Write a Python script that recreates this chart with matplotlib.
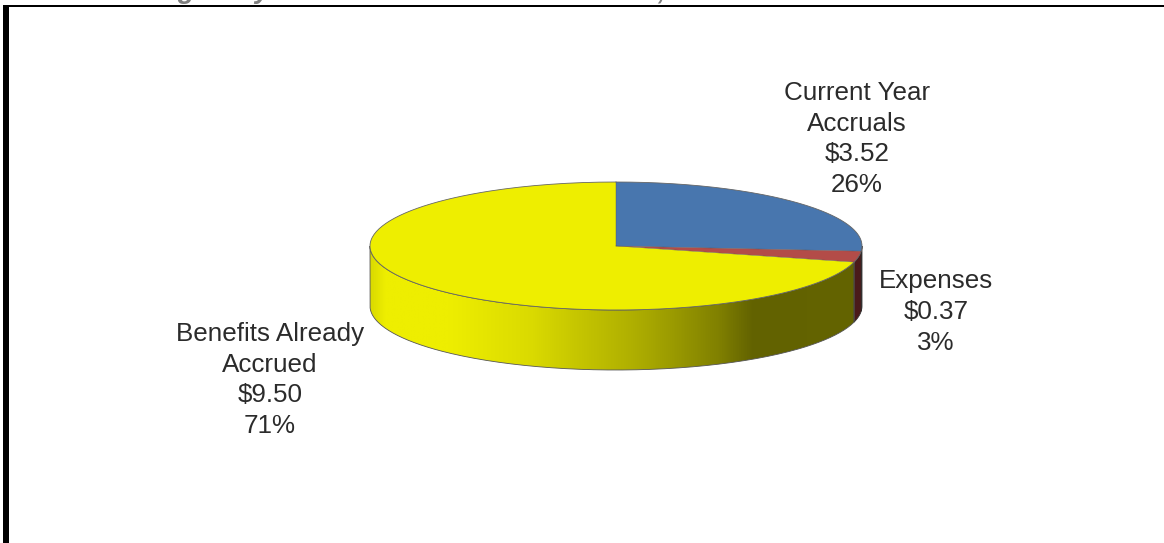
import numpy as np
import matplotlib
matplotlib.use("Agg")
import matplotlib.pyplot as plt
from matplotlib.patches import PathPatch, Rectangle
from matplotlib.path import Path
from matplotlib.colors import LinearSegmentedColormap

plt.rcParams['font.family'] = ['Liberation Sans', 'DejaVu Sans']

categories = ["Current Year\nAccruals", "Expenses", "Benefits Already\nAccrued"]
amounts = [3.52, 0.37, 9.50]
percents = [26, 3, 71]
top_colors = ["#4876ae", "#b34c48", "#eeee00"]
side_colors = ["#2a4a70", "#4a1a1a", None]

W, H = 1164, 543
CX, CY = 616, 246
RX, RY = 246, 64
DEPTH = 60

# side shading from left to right of the disc
shade_stops = [0.0, 0.03, 0.16, 0.33, 0.41, 0.54, 0.61, 0.71, 0.78, 1.0]
shade_colors = ["#dada00", "#eeee00", "#eeee00", "#dada00", "#c8c800", "#aeae00",
                "#9c9c00", "#808000", "#626200", "#646400"]


def ellipse_pts(a0, a1, n=200, dy=0):
    t = np.radians(np.linspace(a0, a1, n))
    return np.column_stack([CX + RX * np.cos(t), CY + dy - RY * np.sin(t)])


def side_path(a0, a1):
    # outer wall between two angles, only the part facing the viewer
    top = ellipse_pts(a0, a1)
    bottom = ellipse_pts(a1, a0, dy=DEPTH)
    pts = np.vstack([top, bottom, top[:1]])
    return Path(pts)


fig = plt.figure(figsize=(W / 100, H / 100), dpi=100)
ax = fig.add_axes([0, 0, 1, 1])
ax.set_xlim(0, W)
ax.set_ylim(H, 0)
ax.axis("off")

# frame
ax.add_patch(Rectangle((3, 5), 6, H, color="black", lw=0))
ax.add_patch(Rectangle((3, 5), W, 2.3, color="black", lw=0))

# bottoms of the heading letters above the frame
for ch, x in [("g", 186), ("y", 262), (",", 661)]:
    ax.text(x, -1.5, ch, ha="center", va="baseline", fontsize=20, fontweight="bold",
            fontstyle="italic", color="#7f7f7f")

fracs = np.array(amounts) / sum(amounts) * 360
ends = 90 - np.cumsum(fracs)
starts = np.concatenate([[90], ends[:-1]])

# walls first, then the top faces
cmap = LinearSegmentedColormap.from_list("wall", list(zip(shade_stops, shade_colors)))
for i in range(3):
    a0, a1 = starts[i], ends[i]
    # visible wall runs from 0 to -180
    v0, v1 = min(a0, 0), max(a1, -180)
    if v0 <= v1:
        continue
    path = side_path(v0, v1)
    if side_colors[i] is None:
        patch = PathPatch(path, fc="none", ec="none")
        ax.add_patch(patch)
        grad = np.linspace(0, 1, 512).reshape(1, -1)
        im = ax.imshow(grad, cmap=cmap, extent=[CX - RX, CX + RX, CY + RY + DEPTH, CY - RY], aspect="auto", zorder=2)
        im.set_clip_path(patch)
        ax.add_patch(PathPatch(path, fc="none", ec="#555555", lw=0.6, zorder=3))
    else:
        ax.add_patch(PathPatch(path, fc=side_colors[i], ec="#333333", lw=0.6, zorder=3))

ax.set_xlim(0, W)
ax.set_ylim(H, 0)

for i in range(3):
    arc = ellipse_pts(starts[i], ends[i])
    pts = np.vstack([[CX, CY], arc, [CX, CY]])
    ax.add_patch(PathPatch(Path(pts), fc=top_colors[i], ec="none", zorder=4))
    ax.plot(arc[:, 0], arc[:, 1], color="#666666", lw=0.6, zorder=5)
    ax.plot([CX, arc[0, 0]], [CY, arc[0, 1]], color="#555555", lw=0.3, zorder=5)

label_pos = [(857, 139), (936, 312), (270, 380)]
for name, amt, pct, (x, y) in zip(categories, amounts, percents, label_pos):
    ax.text(x, y, f"{name}\n${amt:.2f}\n{pct}%", ha="center", va="center",
            fontsize=18.7, color="#2b2b2b", linespacing=1.35, zorder=6)

fig.savefig("out.png", dpi=100)
